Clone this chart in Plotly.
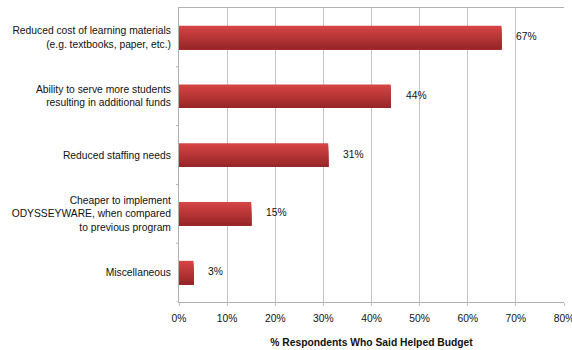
import plotly.graph_objects as go

categories = [
    "Reduced cost of learning materials<br>(e.g. textbooks, paper, etc.)",
    "Ability to serve more students<br>resulting in additional funds",
    "Reduced staffing needs",
    "Cheaper to implement<br>ODYSSEYWARE, when compared<br>to previous program",
    "Miscellaneous",
]
values = [67, 44, 31, 15, 3]
value_labels = ["67%", "44%", "31%", "15%", "3%"]
x_ticks = [0, 10, 20, 30, 40, 50, 60, 70, 80]
x_tick_labels = ["0%", "10%", "20%", "30%", "40%", "50%", "60%", "70%", "80%"]

FONT = "Liberation Sans, Arial, sans-serif"
FS = 10.3
bar_w = 0.4
n_bands = 14
top_rgb = (214, 68, 68)
bot_rgb = (152, 38, 40)

fig = go.Figure()
ypos = list(range(len(categories)))
for i in range(n_bands):
    t = i / (n_bands - 1)
    r, g, b = [round(a + (c - a) * t) for a, c in zip(top_rgb, bot_rgb)]
    start = -bar_w / 2 + i * bar_w / n_bands
    fig.add_trace(go.Bar(
        x=values, y=ypos, orientation="h",
        width=bar_w / 2 - start,
        offset=start,
        marker=dict(color=f"rgb({r},{g},{b})", line=dict(width=0)),
        hoverinfo="skip", showlegend=False,
    ))

for v, lab, y in zip(values, value_labels, ypos):
    fig.add_annotation(x=v, y=y, text=lab, showarrow=False, xanchor="left",
                       xshift=13, yshift=1, font=dict(family=FONT, size=FS, color="#111"))

fig.update_layout(
    width=572, height=350,
    margin=dict(l=179, r=8, t=8, b=48),
    paper_bgcolor="white", plot_bgcolor="white",
    barmode="overlay",
    font=dict(family=FONT, size=FS, color="#111"),
)
fig.update_xaxes(
    range=[0, 80], tickvals=x_ticks, ticktext=x_tick_labels,
    showgrid=True, gridcolor="#c4c4c4", gridwidth=1,
    showline=True, linecolor="#b0b0b0", linewidth=1, mirror=True,
    zeroline=False, ticks="outside", ticklen=3, tickcolor="#c4c4c4",
    ticklabelstandoff=4, automargin=False, ticklabeloverflow="allow",
    title=dict(text="<b>% Respondents Who Said Helped Budget</b>", standoff=15,
               font=dict(family=FONT, size=FS, color="#111")),
    tickfont=dict(family=FONT, size=FS, color="#111"),
)
fig.update_yaxes(
    range=[len(categories) - 0.5, -0.5], tickvals=ypos, ticktext=categories,
    showgrid=False, showline=True, linecolor="#b0b0b0", linewidth=1,
    zeroline=False, ticks="", ticklabelstandoff=5, automargin=False,
    ticklabeloverflow="allow",
    tickfont=dict(family=FONT, size=FS, color="#111"),
)
for k in range(1, len(categories) + 1):
    fig.add_shape(type="line", xref="paper", yref="y", x0=-0.008, x1=0,
                  y0=k - 0.5, y1=k - 0.5, line=dict(color="#b0b0b0", width=1))

fig.write_html("out.html", config={"displayModeBar": False},
               post_script="document.body.style.margin='0';")
